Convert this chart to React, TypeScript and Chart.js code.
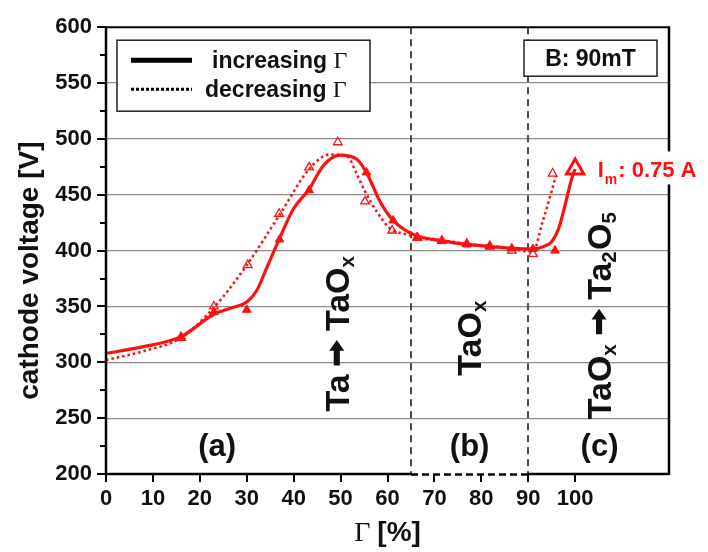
import React, { useEffect, useRef } from 'react';
import { Chart, registerables } from 'chart.js';

Chart.register(...registerables);

// ---------- data ----------
const xTickValues = [0, 10, 20, 30, 40, 50, 60, 70, 80, 90, 100];
const yMajorTicks = [200, 250, 300, 350, 400, 450, 500, 550, 600];
const yMinorTicks = [225, 275, 325, 375, 425, 475, 525, 575];

// measured markers, increasing Γ (filled triangles)
const incPtsX = [16, 23, 30, 37, 43.3, 55.5, 61.2, 66.3, 71.6, 76.9, 81.8, 86.5, 91, 95.7];
const incPtsY = [323, 345, 347, 410, 454, 470, 427, 412, 408.5, 405.5, 403.5, 402, 401.5, 400];

// measured markers, decreasing Γ (open triangles)
const decPtsX = [16, 23, 30.2, 36.9, 43.3, 49.4, 55.2, 61, 66.4, 71.6, 76.9, 81.8, 86.5, 91, 95.2];
const decPtsY = [322, 350, 387, 433, 474.5, 497, 444, 418, 411.5, 409, 406, 404, 400, 397, 469];

// fitted curve, increasing Γ (solid)
const incCurveX = [0, 8, 16, 23, 27, 30, 32.1, 34.3, 36.9, 39.9, 43.3, 46.3, 49.8, 53.4, 55.5, 58.4, 61.2, 65.5, 72, 77, 82, 87, 91, 93.5, 95, 96.5, 97.5, 98.5, 99.3, 100];
const incCurveY = [308, 314, 323, 343, 349, 354, 364, 385, 410, 437, 455, 476, 485.5, 482, 470, 444, 427, 414.5, 408.5, 405.5, 403.5, 402, 401.5, 404, 408, 420, 435, 452, 465, 473];

// fitted curve, decreasing Γ (dotted)
const decCurveX = [0, 8, 16, 23, 30, 37, 43.3, 47.7, 51.3, 53.4, 55.2, 57.7, 60.5, 64, 66.4, 72, 77, 82, 87, 91, 93, 94.9, 95.9];
const decCurveY = [302, 310, 322, 349, 387, 432, 473, 486, 485, 469, 453, 435, 420, 414.5, 411.5, 409, 406, 404, 401, 399, 425, 452, 467];

// magnetron current marker
const imPointX = [100];
const imPointY = [473];

// region boundaries & labels
const regionBounds = [65, 90];
const regionLabels = ['(a)', '(b)', '(c)'];
const regionLabelX = [23.7, 77.5, 105.2];

const legendLabels = ['increasing ', 'decreasing '];
const fieldLabel = 'B: 90mT';
const yTitle = 'cathode voltage [V]';

const RED = '#ff1010';
const SANS = '"Liberation Sans", Arial, Helvetica, sans-serif';
const SERIF = '"Liberation Serif", "Times New Roman", serif';

const toXY = (xs: number[], ys: number[]) => xs.map((x, i) => ({ x, y: ys[i] }));

type Part = { t?: string; sub?: boolean; arrow?: boolean };

function drawRotated(ctx: CanvasRenderingContext2D, px: number, py: number, parts: Part[], size: number) {
  ctx.save();
  ctx.translate(px, py);
  ctx.rotate(-Math.PI / 2);
  ctx.fillStyle = '#111';
  ctx.textBaseline = 'alphabetic';
  ctx.textAlign = 'left';
  let cx = 0;
  for (const p of parts) {
    if (p.arrow) {
      const m = size * 0.26;
      const L = size * 0.75;
      const cy = -size * 0.36;
      const x0 = cx + m;
      const hw = size * 0.22;
      const sw = size * 0.09;
      const hl = size * 0.32;
      ctx.beginPath();
      ctx.moveTo(x0, cy - sw);
      ctx.lineTo(x0 + L - hl, cy - sw);
      ctx.lineTo(x0 + L - hl, cy - hw);
      ctx.lineTo(x0 + L, cy);
      ctx.lineTo(x0 + L - hl, cy + hw);
      ctx.lineTo(x0 + L - hl, cy + sw);
      ctx.lineTo(x0, cy + sw);
      ctx.closePath();
      ctx.fill();
      cx += L + 2 * m;
      continue;
    }
    const s = p.sub ? size * 0.6 : size;
    ctx.font = `bold ${s}px ${SANS}`;
    const dy = p.sub ? size * 0.15 : 0;
    ctx.fillText(p.t || '', cx, dy);
    cx += ctx.measureText(p.t || '').width + (p.sub ? size * 0.04 : 0);
  }
  ctx.restore();
}

const decor = {
  id: 'decor',
  beforeDatasetsDraw(chart: any) {
    const { ctx, chartArea: a, scales } = chart;
    const x = scales.x;
    ctx.save();
    ctx.strokeStyle = '#4a4a4a';
    ctx.lineWidth = 2;
    ctx.setLineDash([7, 5]);
    for (const v of regionBounds) {
      const px = Math.round(x.getPixelForValue(v));
      ctx.beginPath();
      ctx.moveTo(px, a.top);
      ctx.lineTo(px, a.bottom);
      ctx.stroke();
    }
    ctx.restore();
  },
  afterDraw(chart: any) {
    const { ctx, chartArea: a, scales } = chart;
    const x = scales.x;
    const y = scales.y;
    ctx.save();
    ctx.strokeStyle = '#000';
    ctx.lineCap = 'butt';

    // top & right frame
    ctx.lineWidth = 2;
    ctx.beginPath();
    ctx.moveTo(a.left, a.top);
    ctx.lineTo(a.right, a.top);
    ctx.stroke();
    ctx.lineWidth = 2.5;
    ctx.beginPath();
    ctx.moveTo(a.right, a.top - 1);
    ctx.lineTo(a.right, a.bottom + 1);
    ctx.stroke();

    // left axis
    ctx.lineWidth = 2.5;
    ctx.beginPath();
    ctx.moveTo(a.left, a.top - 1);
    ctx.lineTo(a.left, a.bottom + 1);
    ctx.stroke();
    // bottom axis: solid, dashed between region bounds, solid
    const b0 = x.getPixelForValue(regionBounds[0]);
    const b1 = x.getPixelForValue(regionBounds[1]);
    ctx.beginPath();
    ctx.moveTo(a.left, a.bottom);
    ctx.lineTo(b0, a.bottom);
    ctx.moveTo(b1, a.bottom);
    ctx.lineTo(a.right, a.bottom);
    ctx.stroke();
    ctx.setLineDash([7, 4]);
    ctx.beginPath();
    ctx.moveTo(b0, a.bottom + 0.5);
    ctx.lineTo(b1, a.bottom + 0.5);
    ctx.stroke();
    ctx.setLineDash([]);

    // y ticks
    ctx.lineWidth = 2;
    for (const v of yMajorTicks) {
      const py = Math.round(y.getPixelForValue(v));
      ctx.beginPath();
      ctx.moveTo(a.left - 9, py);
      ctx.lineTo(a.left, py);
      ctx.stroke();
    }
    for (const v of yMinorTicks) {
      const py = Math.round(y.getPixelForValue(v));
      ctx.beginPath();
      ctx.moveTo(a.left - 6, py);
      ctx.lineTo(a.left, py);
      ctx.stroke();
    }
    // x ticks
    for (const v of xTickValues) {
      const px = Math.round(x.getPixelForValue(v));
      ctx.beginPath();
      ctx.moveTo(px, a.bottom);
      ctx.lineTo(px, a.bottom + 8);
      ctx.stroke();
    }

    // legend box
    const lx = a.left + 11, ly = a.top + 13, lw = 253, lh = 71;
    ctx.fillStyle = '#fff';
    ctx.fillRect(lx, ly, lw, lh);
    ctx.strokeStyle = '#222';
    ctx.lineWidth = 1.5;
    ctx.strokeRect(lx, ly, lw, lh);
    ctx.strokeStyle = '#000';
    ctx.lineWidth = 5;
    ctx.beginPath();
    ctx.moveTo(lx + 14, ly + 20);
    ctx.lineTo(lx + 75, ly + 20);
    ctx.stroke();
    ctx.lineWidth = 3;
    ctx.setLineDash([3, 2]);
    ctx.beginPath();
    ctx.moveTo(lx + 14, ly + 49);
    ctx.lineTo(lx + 75, ly + 49);
    ctx.stroke();
    ctx.setLineDash([]);
    ctx.fillStyle = '#111';
    ctx.textBaseline = 'alphabetic';
    ctx.textAlign = 'left';
    const legendX = [lx + 95, lx + 88];
    const legendY = [ly + 28, ly + 57];
    legendLabels.forEach((t, i) => {
      ctx.font = `bold 23px ${SANS}`;
      ctx.fillText(t, legendX[i], legendY[i]);
      const w = ctx.measureText(t).width;
      ctx.font = `24px ${SERIF}`;
      ctx.fillText('Γ', legendX[i] + w, legendY[i]);
    });

    // B field box
    const bx = a.left + 418, by = a.top + 13, bw = 133, bh = 36;
    ctx.fillStyle = '#fff';
    ctx.fillRect(bx, by, bw, bh);
    ctx.strokeStyle = '#222';
    ctx.lineWidth = 1.5;
    ctx.strokeRect(bx, by, bw, bh);
    ctx.fillStyle = '#111';
    ctx.font = `bold 23px ${SANS}`;
    ctx.textAlign = 'center';
    ctx.fillText(fieldLabel, bx + bw / 2, by + 26);

    // region labels
    ctx.font = `bold 31px ${SANS}`;
    regionLabels.forEach((t, i) => {
      ctx.fillText(t, x.getPixelForValue(regionLabelX[i]), y.getPixelForValue(216.5));
    });
    ctx.textAlign = 'left';

    // rotated phase labels
    drawRotated(ctx, x.getPixelForValue(51.8), y.getPixelForValue(256), [
      { t: 'Ta' }, { arrow: true }, { t: 'TaO' }, { t: 'x', sub: true },
    ], 34);
    drawRotated(ctx, x.getPixelForValue(80), y.getPixelForValue(288), [
      { t: 'TaO' }, { t: 'x', sub: true },
    ], 34);
    drawRotated(ctx, x.getPixelForValue(107.7), y.getPixelForValue(249), [
      { t: 'TaO' }, { t: 'x', sub: true }, { arrow: true }, { t: 'Ta' }, { t: '2', sub: true }, { t: 'O' }, { t: '5', sub: true },
    ], 34);

    // Im label
    const ix = x.getPixelForValue(104.8);
    const iy = y.getPixelForValue(465.5);
    ctx.fillStyle = '#fff';
    ctx.fillRect(ix - 2, iy - 26, 100, 33);
    ctx.fillStyle = RED;
    ctx.font = `bold 22px ${SANS}`;
    ctx.fillText('I', ix, iy);
    let cx = ix + ctx.measureText('I').width + 1;
    ctx.font = `bold 14px ${SANS}`;
    ctx.fillText('m', cx, iy + 7);
    cx += ctx.measureText('m').width + 1;
    ctx.font = `bold 22px ${SANS}`;
    ctx.fillText(': 0.75 A', cx, iy);

    // axis titles
    ctx.fillStyle = '#111';
    ctx.save();
    ctx.translate(38, (y.getPixelForValue(200) + y.getPixelForValue(600)) / 2 + 20);
    ctx.rotate(-Math.PI / 2);
    ctx.textAlign = 'center';
    ctx.font = `bold 28px ${SANS}`;
    ctx.fillText(yTitle, 0, 0);
    ctx.restore();

    const tx = (a.left + a.right) / 2;
    ctx.font = `28px ${SERIF}`;
    const gw = ctx.measureText('Γ ').width;
    ctx.font = `bold 28px ${SANS}`;
    const bwid = ctx.measureText('[%]').width;
    const start = tx - (gw + bwid) / 2;
    ctx.textAlign = 'left';
    ctx.font = `28px ${SERIF}`;
    ctx.fillText('Γ ', start, 541);
    ctx.font = `bold 28px ${SANS}`;
    ctx.fillText('[%]', start + gw, 541);

    ctx.restore();
  },
};

export default function App() {
  const ref = useRef<HTMLCanvasElement | null>(null);
  useEffect(() => {
    document.body.style.margin = '0';
    const canvas = ref.current;
    if (!canvas) return;
    const chart = new Chart(canvas, {
      type: 'scatter',
      data: {
        datasets: [
          {
            label: 'increasing fit',
            data: toXY(incCurveX, incCurveY),
            showLine: true,
            borderColor: RED,
            borderWidth: 3.2,
            pointRadius: 0,
            cubicInterpolationMode: 'monotone',
          },
          {
            label: 'decreasing fit',
            data: toXY(decCurveX, decCurveY),
            showLine: true,
            borderColor: RED,
            borderWidth: 2.6,
            borderDash: [2.5, 3],
            pointRadius: 0,
            cubicInterpolationMode: 'monotone',
          },
          {
            label: 'increasing',
            data: toXY(incPtsX, incPtsY),
            showLine: false,
            pointStyle: 'triangle',
            pointRadius: 5,
            backgroundColor: RED,
            borderColor: RED,
            borderWidth: 1,
          },
          {
            label: 'decreasing',
            data: toXY(decPtsX, decPtsY),
            showLine: false,
            pointStyle: 'triangle',
            pointRadius: 5,
            backgroundColor: 'rgba(255,255,255,0)',
            borderColor: RED,
            borderWidth: 1.3,
          },
          {
            label: 'Im',
            data: toXY(imPointX, imPointY),
            showLine: false,
            pointStyle: 'triangle',
            pointRadius: 10,
            backgroundColor: 'rgba(255,255,255,0)',
            borderColor: RED,
            borderWidth: 3,
          },
        ],
      } as any,
      options: {
        animation: false,
        responsive: false,
        devicePixelRatio: 1,
        layout: { padding: { top: 19, right: 39, left: 0, bottom: 0 } },
        plugins: { legend: { display: false }, tooltip: { enabled: false } },
        scales: {
          x: {
            type: 'linear',
            min: 0,
            max: 120,
            afterBuildTicks: (s: any) => {
              s.ticks = xTickValues.map((v) => ({ value: v }));
            },
            afterFit: (s: any) => {
              s.height = 78;
            },
            grid: { display: false, drawTicks: false },
            border: { display: false },
            ticks: {
              autoSkip: false,
              maxRotation: 0,
              padding: 12,
              color: '#111',
              font: { family: SANS, weight: 'bold', size: 22 },
            },
          },
          y: {
            type: 'linear',
            min: 200,
            max: 600,
            afterBuildTicks: (s: any) => {
              s.ticks = yMajorTicks.map((v) => ({ value: v }));
            },
            afterFit: (s: any) => {
              s.width = 106;
            },
            grid: {
              drawTicks: false,
              color: (c: any) => {
                const v = c.tick ? c.tick.value : 0;
                return v > 200 && v < 600 ? '#8f8a86' : 'rgba(0,0,0,0)';
              },
              lineWidth: 1.3,
            },
            border: { display: false },
            ticks: {
              padding: 14,
              color: '#111',
              font: { family: SANS, weight: 'bold', size: 22 },
            },
          },
        },
      } as any,
      plugins: [decor],
    });
    return () => chart.destroy();
  }, []);
  return (
    <div style={{ width: 708, height: 552, background: '#fff' }}>
      <canvas ref={ref} width={708} height={552} style={{ display: 'block' }} />
    </div>
  );
}
